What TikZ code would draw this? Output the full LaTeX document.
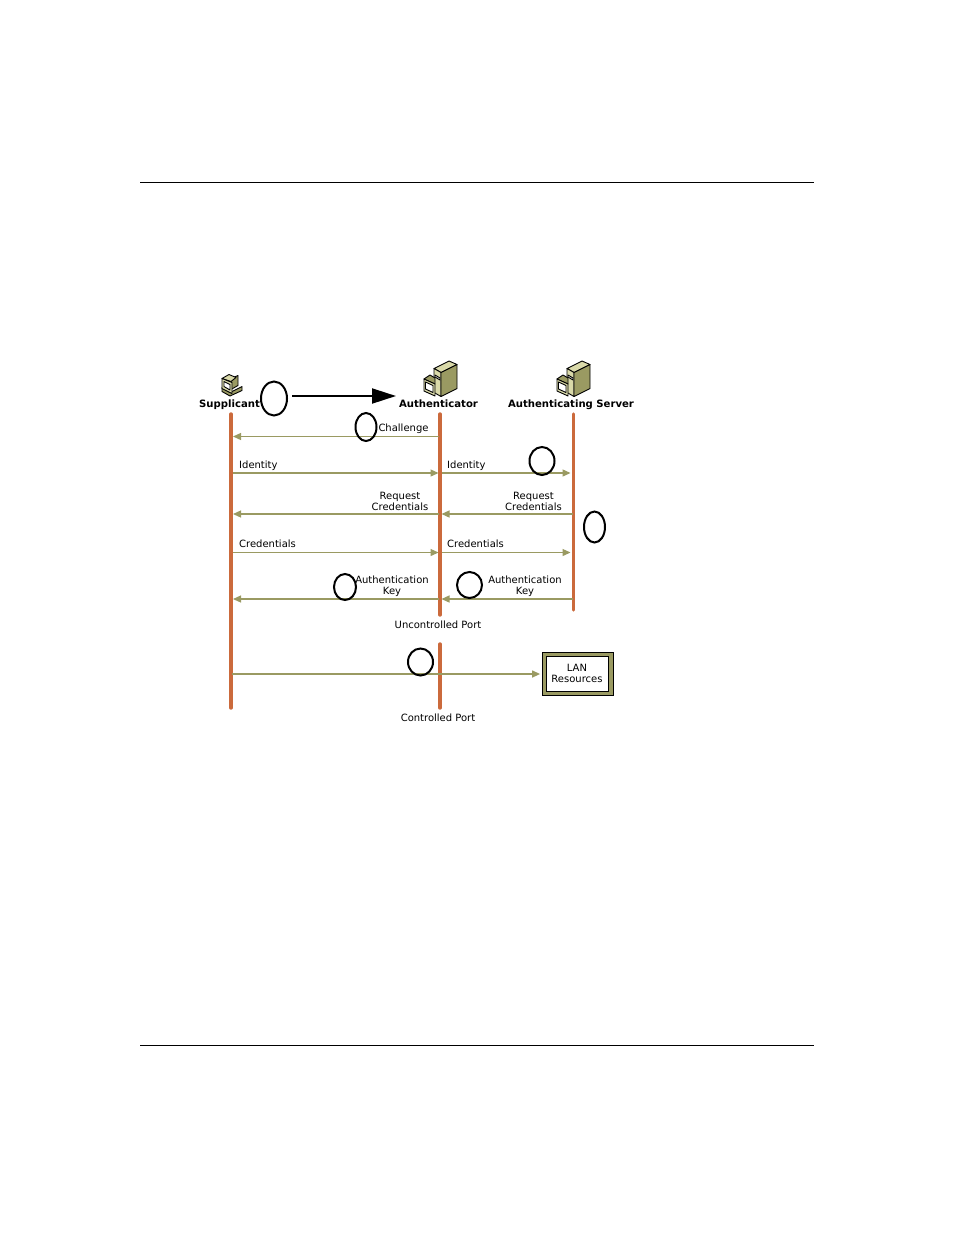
\documentclass[tikz,border=0pt]{standalone}
\usepackage{fontspec}
\setmainfont{DejaVu Sans}
\usetikzlibrary{arrows.meta,shapes.geometric}
\definecolor{olivebar}{HTML}{9A9A62}
\definecolor{oliveface}{HTML}{D9D9A9}
\definecolor{lifecol}{HTML}{CB6A3C}
\tikzset{
  x=1pt,y=-1pt,
  lifeline/.style={draw=lifecol,line width=3.4pt,line cap=round},
  msg/.style={draw=olivebar,line width=1.3pt,-{Triangle[length=8pt,width=7pt,fill=olivebar]}},
  lbl/.style={font=\fontsize{10pt}{11pt}\selectfont,inner sep=0pt,align=center,text=black},
  head/.style={font=\fontsize{10.1pt}{11pt}\selectfont\bfseries,inner sep=0pt,text=black,anchor=base},
  ring/.style={ellipse,draw=black,line width=2pt,fill=none,inner sep=0pt,minimum width=#1},
  rule/.style={draw=black,line width=0.8pt},
  iconline/.style={draw=black,line width=0.9pt,line join=round},
  server/.pic={
    \path[iconline,fill=oliveface] (10,7.5)--(25,0)--(33,3.5)--(17,11.5)--cycle;
    \path[iconline,fill=oliveface] (10,7.5)--(17,11.5)--(17,35.5)--(10,31.5)--cycle;
    \path[iconline,fill=olivebar] (17,11.5)--(33,3.5)--(33,27.5)--(17,35.5)--cycle;
    \path[iconline,fill=white] (11,14)--(16,17)--(16,19)--(11,16)--cycle;
    \path[iconline,fill=olivebar] (0,18)--(6,14)--(11,17)--(11,23)--cycle;
    \path[iconline,fill=oliveface] (0,18)--(11,23)--(11,35)--(0,30)--cycle;
    \path[iconline,fill=white] (1.5,21)--(9,24.5)--(9,31.5)--(1.5,28)--cycle;
  },
  desktop/.pic={
    \path[iconline,fill=olivebar] (1,14)--(9,19)--(21,13)--(21,17)--(9,22.5)--(1,18)--cycle;
    \path[iconline,fill=olivebar] (10,5)--(17,2)--(17,12)--(10,16)--cycle;
    \path[iconline,fill=oliveface] (1,5)--(8,1)--(15,4)--(10,8)--cycle;
    \path[iconline,fill=oliveface] (1,5)--(11,9)--(11,20)--(1,15)--cycle;
    \path[iconline,fill=white] (3,8)--(9,11)--(9,16.5)--(3,13)--cycle;
  }
}
\begin{document}
\begin{tikzpicture}
\useasboundingbox (0,0) rectangle (954,1235);
\fill[white] (0,0) rectangle (954,1235);
\coordinate (r1a) at (140,182.5); \coordinate (r1b) at (814,182.5);
\coordinate (r2a) at (140,1045.5); \coordinate (r2b) at (814,1045.5);
\draw[rule] (r1a) -- (r1b);
\draw[rule] (r2a) -- (r2b);
\pic at (221,373.5) {desktop};
\pic at (424,361) {server};
\pic at (557,361) {server};
\node[head] (sup) at (229.5,407.5) {Supplicant};
\node[head] (auth) at (438.5,407.5) {Authenticator};
\node[head] (srv) at (571,407.5) {Authenticating Server};
\coordinate (s0) at (231,414); \coordinate (s1) at (231,708);
\coordinate (a0) at (440,414); \coordinate (a1) at (440,615);
\coordinate (c0) at (440,644); \coordinate (c1) at (440,708);
\coordinate (v0) at (573.7,414); \coordinate (v1) at (573.7,610);
\draw[lifeline] (s0) -- (s1);
\draw[lifeline] (a0) -- (a1);
\draw[lifeline] (c0) -- (c1);
\draw[lifeline] (v0) -- (v1);
\foreach \n/\y in {a/436.5,b/473,c/514,d/552.5,e/599}{
  \coordinate (sl\n) at (233,\y);
  \coordinate (al\n) at (438.5,\y);
  \coordinate (ar\n) at (441.5,\y);
  \coordinate (vl\n) at (570.5,\y);
  \coordinate (vr\n) at (572.5,\y);
}
\draw[msg] (ala) -- (sla);
\draw[msg] (slb) -- (alb);
\draw[msg] (arb) -- (vlb);
\draw[msg] (alc) -- (slc);
\draw[msg] (vrc) -- (arc);
\draw[msg] (sld) -- (ald);
\draw[msg] (ard) -- (vld);
\draw[msg] (ale) -- (sle);
\draw[msg] (vre) -- (are);
\node[draw=black,line width=0.8pt,fill=olivebar,minimum width=71pt,minimum height=43pt,inner sep=0pt] (lanouter) at (577.5,674) {};
\node[draw=black,line width=0.8pt,fill=white,minimum width=62pt,minimum height=35pt,inner sep=0pt,lbl] (lan) at (577,673.5) {LAN\\Resources};
\coordinate (l0) at (232,674);
\draw[msg,shorten >=1.5pt] (l0) -- (lanouter.west);
\coordinate (k0) at (292,396); \coordinate (k1) at (396,396);
\draw[draw=black,line width=2pt,-{Triangle[length=24pt,width=15pt,fill=black]}] (k0) -- (k1);
\node[lbl] (t1) at (403.5,429) {Challenge};
\node[lbl,anchor=west] (t2) at (239,465.5) {Identity};
\node[lbl,anchor=west] (t3) at (447,465.5) {Identity};
\node[lbl] (t4) at (400,501.5) {Request\\Credentials};
\node[lbl] (t5) at (533.5,501.5) {Request\\Credentials};
\node[lbl,anchor=west] (t6) at (239,544) {Credentials};
\node[lbl,anchor=west] (t7) at (447,544) {Credentials};
\node[lbl] (t8) at (392,586) {Authentication\\Key};
\node[lbl] (t9) at (525,586) {Authentication\\Key};
\node[lbl] (t10) at (438,625) {Uncontrolled Port};
\begin{scope}
\clip (380,700) rectangle (500,721.5);
\node[lbl,anchor=base] (t11) at (438,721) {Controlled Port};
\end{scope}
\node[ring=26pt,minimum height=34pt] (o1) at (274,398.5) {};
\node[ring=21pt,minimum height=28pt] (o2) at (366,427) {};
\node[ring=25pt,minimum height=28pt] (o3) at (542,461) {};
\node[ring=21pt,minimum height=31pt] (o4) at (594.5,527) {};
\node[ring=22pt,minimum height=26pt] (o5) at (345,587) {};
\node[ring=25pt,minimum height=26pt] (o6) at (469.5,585) {};
\node[ring=25pt,minimum height=27pt] (o7) at (420.5,662) {};
\end{tikzpicture}
\end{document}
